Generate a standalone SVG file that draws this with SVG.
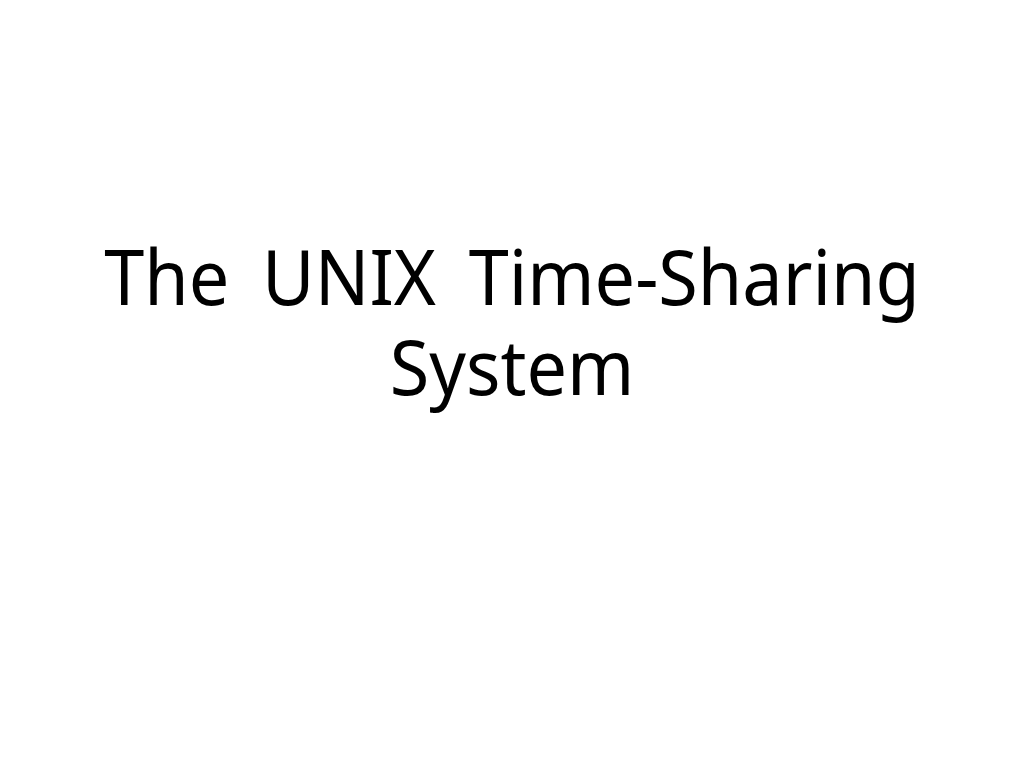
<svg xmlns="http://www.w3.org/2000/svg" width="1024" height="768" viewBox="0 0 1024 768">
<style>
.t{font-family:"Noto Sans","Open Sans","DejaVu Sans",sans-serif;font-size:77px;fill:#000;text-anchor:middle;word-spacing:15px}
</style>
<rect width="1024" height="768" fill="#fff"/>
<g id="title" transform="translate(512 0) scale(0.935 1)">
<text class="t"><tspan x="0" y="305">The UNIX Time-Sharing</tspan><tspan x="0" y="395">System</tspan></text>
</g>
</svg>
